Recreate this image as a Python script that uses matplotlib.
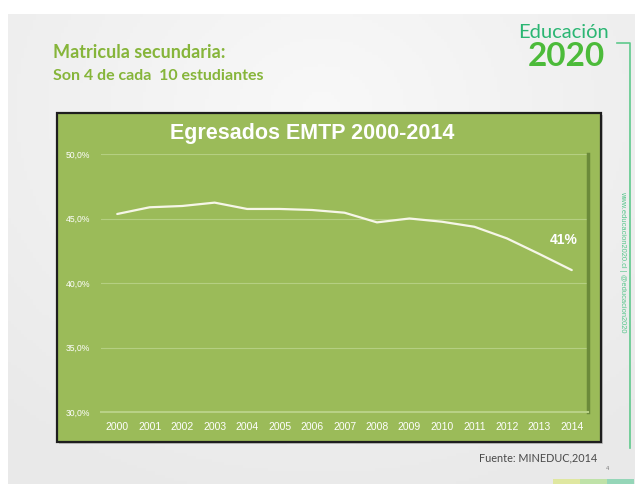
import numpy as np
import matplotlib.pyplot as plt
from matplotlib.patches import Rectangle
from matplotlib.ticker import FuncFormatter

plt.rcParams['font.family'] = ['Liberation Sans', 'DejaVu Sans']

years = ["2000", "2001", "2002", "2003", "2004", "2005", "2006", "2007",
         "2008", "2009", "2010", "2011", "2012", "2013", "2014"]
egresados = [45.35, 45.87, 45.97, 46.23, 45.74, 45.74, 45.66, 45.45,
             44.7, 45.0, 44.75, 44.36, 43.46, 42.25, 41.0]
y_ticks = [30, 35, 40, 45, 50]

title = "Egresados EMTP 2000-2014"
head1 = "Matricula secundaria:"
head2 = "Son 4 de cada  10 estudiantes"
source = "Fuente: MINEDUC,2014"

W, H = 635, 484
fig = plt.figure(figsize=(W / 100, H / 100), dpi=100)
fig.patch.set_facecolor('white')

# background axes in pixel coordinates
bg = fig.add_axes([0, 0, 1, 1])
bg.set_xlim(0, W)
bg.set_ylim(H, 0)
bg.axis('off')

# slide background with a soft radial gradient
gx, gy = np.meshgrid(np.linspace(-1, 1, 200), np.linspace(-1, 1, 150))
r = np.sqrt((gx * 0.9) ** 2 + ((gy + 0.6) * 0.8) ** 2)
shade = 0.975 - 0.06 * np.clip(r, 0, 1.4) / 1.4
bg.imshow(np.dstack([shade, shade, shade]), extent=(8, W, H, 14), aspect='auto', zorder=0)

# bottom right colour strip
for x0, c in zip([553, 580, 607], ['#dfe7a0', '#bfe2a8', '#95d6b8']):
    bg.add_patch(Rectangle((x0, 479), 27, 5, color=c, zorder=1, lw=0))

# green chart box with shadow
bg.add_patch(Rectangle((59, 115), 544, 329, color='#9a9a9a', alpha=0.5, zorder=1, lw=0))
bg.add_patch(Rectangle((57, 113), 544, 329, facecolor='#9bbb59', edgecolor='#1e1e1e', lw=1.6, zorder=2))

# headings
bg.text(53, 52, head1, color='#86b53a', fontsize=13, fontweight='bold', family=['Lato', 'DejaVu Sans'],
        va='center', ha='left', zorder=3)
bg.text(53, 76, head2, color='#86b53a', fontsize=11.5, fontweight='bold', family=['Lato', 'DejaVu Sans'],
        va='center', ha='left', zorder=3)

# logo
bg.text(564, 33, "Educación", color='#2bb673', fontsize=14.5, family=['Lato', 'DejaVu Sans'],
        va='center', ha='center', zorder=3)
bg.text(566, 57, "2020", color='#4cbb3a', fontsize=24, fontweight='bold', family=['Lato', 'DejaVu Sans'],
        va='center', ha='center', zorder=3)
bg.plot([617, 630, 630], [43, 43, 448], color='#5fc98c', lw=1.2, zorder=3)
bg.text(623, 262, "www.educacion2020.cl | @educacion2020", color='#3cbf7a', fontsize=5.4,
        rotation=270, va='center', ha='center', zorder=3, alpha=0.85)

bg.text(312, 133, title, color='white', fontsize=15.5, fontweight='bold', va='center', ha='center', zorder=3)
bg.text(597, 458, source, color='#4a4a4a', fontsize=7.8, family=['Lato', 'DejaVu Sans'],
        va='center', ha='right', zorder=3)
bg.text(607, 469, "4", color='#777777', fontsize=4, va='center', ha='center', zorder=3)

# chart
ax = fig.add_axes([101 / W, 1 - 412 / H, (588 - 101) / W, (412 - 154) / H])
ax.set_facecolor('#9bbb59')
x = np.arange(len(years))
ax.plot(x, egresados, color='#f6f6e8', lw=1.6, solid_capstyle='round', zorder=3)
ax.set_xlim(-0.5, len(years) - 0.5)
ax.set_ylim(30, 50)
ax.set_yticks(y_ticks)
ax.set_xticks(x)
ax.set_xticklabels(years)
ax.yaxis.set_major_formatter(FuncFormatter(lambda v, p: f"{v:.1f}%".replace('.', ',')))
ax.grid(axis='y', color='#b5cf82', lw=0.8)
ax.grid(axis='x', visible=False)
ax.tick_params(length=0, colors='white')
ax.tick_params(axis='y', labelsize=6.2, pad=8)
ax.tick_params(axis='x', labelsize=7.5, pad=7.5)
for s in ['top', 'left']:
    ax.spines[s].set_visible(False)
ax.spines['bottom'].set_color('#b8d186')
ax.spines['bottom'].set_linewidth(1.5)
ax.spines['right'].set_color('#6b8a3a')
ax.spines['right'].set_linewidth(2.5)

ax.annotate("41%", xy=(x[-1], egresados[-1]), xytext=(-6, 22), textcoords='offset points',
            color='white', fontsize=10, fontweight='bold', ha='center', va='center')

fig.savefig("out.png", dpi=100)
